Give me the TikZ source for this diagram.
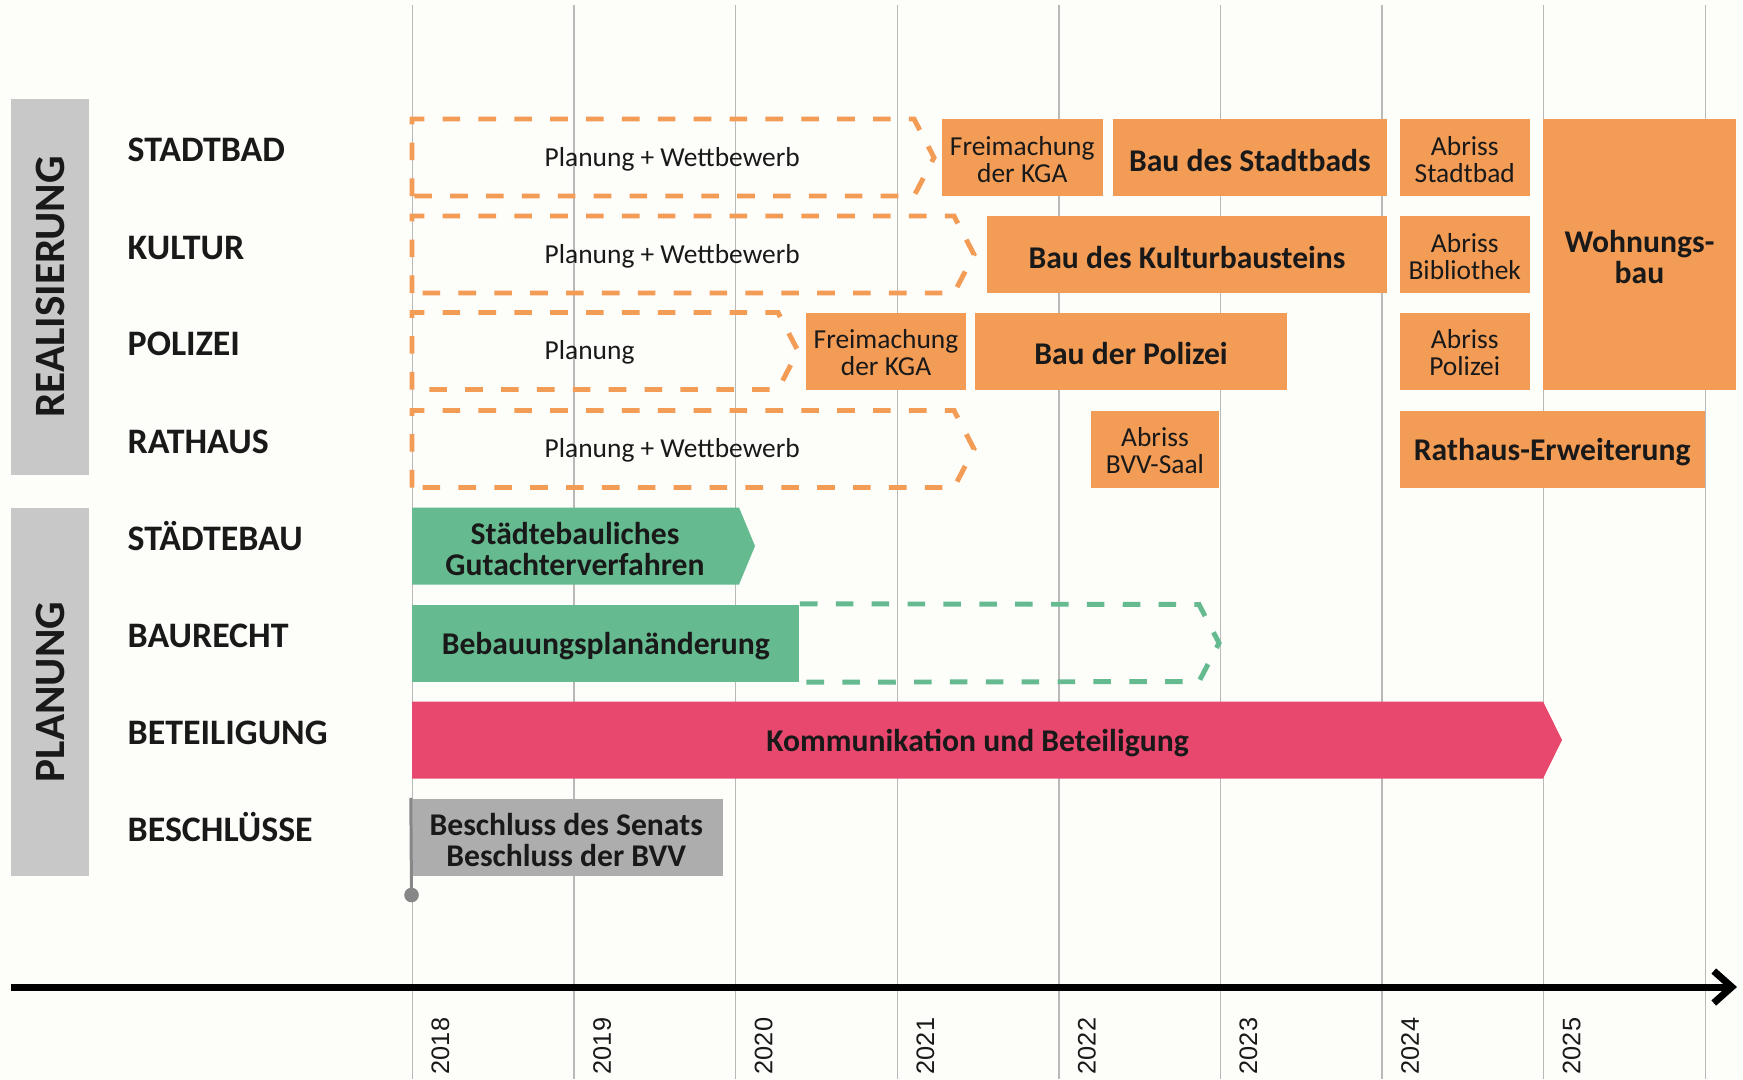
\documentclass[tikz,border=0pt]{standalone}
\usepackage{fontspec}
\setmainfont{Carlito}
\newfontfamily\yearfont{Liberation Sans}
\usetikzlibrary{fit,arrows.meta}

\definecolor{bgcream}{RGB}{253,253,250}
\definecolor{borange}{RGB}{243,156,86}
\definecolor{bgreen}{RGB}{101,186,143}
\definecolor{bpink}{RGB}{232,72,110}
\definecolor{bgray}{RGB}{173,173,173}
\definecolor{bandgray}{RGB}{200,200,200}
\definecolor{gridgray}{RGB}{185,185,185}
\definecolor{polegray}{RGB}{135,135,135}
\definecolor{textdark}{RGB}{25,25,25}

\tikzset{
  grid line/.style={draw=gridgray, line width=0.4pt},
  year label/.style={rotate=90, inner sep=0pt, font=\yearfont\fontsize{7.2}{7.2}\selectfont, text=textdark},
  band/.style={fill=bandgray, inner sep=0pt},
  band label/.style={rotate=90, inner sep=0pt, font=\fontsize{12.3}{12.3}\selectfont\bfseries, text=textdark},
  row label/.style={anchor=base west, inner sep=0pt, font=\fontsize{10.2}{10.2}\selectfont\bfseries, text=textdark},
  thin text/.style={font=\fontsize{7.8}{7.6}\selectfont, text=textdark, align=center, yshift=-0.5pt},
  bold text/.style={font=\fontsize{9}{8.9}\selectfont\bfseries, text=textdark, align=center, yshift=-0.8pt},
  obox/.style={fill=borange, inner sep=0pt},
  gbox/.style={fill=bgray, inner sep=0pt},
  odash/.style={draw=borange, line width=1.4pt, dash pattern=on 5pt off 5.2pt},
  gdash/.style={draw=bgreen, line width=1.4pt, dash pattern=on 5pt off 5.2pt},
  pole/.style={draw=polegray, line width=0.3mm},
  time axis/.style={draw=black, line width=0.7mm, -{Straight Barb[length=1.8mm, width=3.2mm]}}
}

\begin{document}
\begin{tikzpicture}[x=0.01cm, y=-0.01cm]
  \useasboundingbox[fill=bgcream] (0,0) rectangle (1743,1079);

  % year grid
  \foreach \yr [count=\i from 0] in {2018,...,2026} {
    \pgfmathsetmacro{\gx}{412.5+161.6*\i}
    \draw[grid line] (\gx,5) -- (\gx,1079);
  }
  \foreach \yr [count=\i from 0] in {2018,...,2025} {
    \pgfmathsetmacro{\gx}{440.5+161.6*\i}
    \node[year label] (y\yr) at (\gx,1046) {\yr};
  }

  % side bands
  \node[band, fit={(11,99) (89,475)}] (real) {};
  \node[band label] at (real.center) {REALISIERUNG};
  \node[band, fit={(11,508) (89,876)}] (plan) {};
  \node[band label] at (plan.center) {PLANUNG};

  % row labels
  \node[row label] (lstadtbad) at (127,162) {STADTBAD};
  \node[row label] (lkultur) at (127,259) {KULTUR};
  \node[row label] (lpolizei) at (127,355.5) {POLIZEI};
  \node[row label] (lrathaus) at (127,453) {RATHAUS};
  \node[row label] (lstaedtebau) at (127,550.5) {STÄDTEBAU};
  \node[row label] (lbaurecht) at (127,647.5) {BAURECHT};
  \node[row label] (lbeteiligung) at (127,744.5) {BETEILIGUNG};
  \node[row label] (lbeschluesse) at (127,841.5) {BESCHLÜSSE};

  % stadtbad
  \draw[odash] (412,196) -- (412,119) -- (914,119) -- (934,157.5) -- (914,196) -- cycle;
  \node[thin text, anchor=west, inner sep=0pt] (pstadtbad) at (544,157.5) {Planung + Wettbewerb};
  \node[obox, fit={(941.5,119) (1103,196)}, label={[thin text]center:Freimachung\\der KGA}] (fstadtbad) {};
  \node[obox, fit={(1112.7,119) (1387,196)}, label={[bold text]center:Bau des Stadtbads}] (bstadtbad) {};
  \node[obox, fit={(1399.5,119) (1530,196)}, label={[thin text]center:Abriss\\Stadtbad}] (astadtbad) {};
  \node[obox, fit={(1543,119) (1736,389.5)}, label={[bold text]center:Wohnungs-\\bau}] (wohnbau) {};

  % kultur
  \draw[odash] (412,293) -- (412,216) -- (954,216) -- (974,254.5) -- (954,293) -- cycle;
  \node[thin text, anchor=west, inner sep=0pt] (pkultur) at (544,254.5) {Planung + Wettbewerb};
  \node[obox, fit={(987,216) (1387,293)}, label={[bold text]center:Bau des Kulturbausteins}] (bkultur) {};
  \node[obox, fit={(1399.5,216) (1530,293)}, label={[thin text]center:Abriss\\Bibliothek}] (abibl) {};

  % polizei
  \draw[odash] (412,389.5) -- (412,312.5) -- (778,312.5) -- (798,351) -- (778,389.5) -- cycle;
  \node[thin text, anchor=west, inner sep=0pt] (ppolizei) at (544,351) {Planung};
  \node[obox, fit={(806,312.5) (966,389.5)}, label={[thin text]center:Freimachung\\der KGA}] (fpolizei) {};
  \node[obox, fit={(975,312.5) (1287,389.5)}, label={[bold text]center:Bau der Polizei}] (bpolizei) {};
  \node[obox, fit={(1399.5,312.5) (1530,389.5)}, label={[thin text]center:Abriss\\Polizei}] (apolizei) {};

  % rathaus
  \draw[odash] (412,487.5) -- (412,410.5) -- (954,410.5) -- (974,449) -- (954,487.5) -- cycle;
  \node[thin text, anchor=west, inner sep=0pt] (prathaus) at (544,449) {Planung + Wettbewerb};
  \node[obox, fit={(1090.5,410.5) (1219.4,487.5)}, label={[thin text]center:Abriss\\BVV-Saal}] (abvv) {};
  \node[obox, fit={(1399.5,410.5) (1705,487.5)}, label={[bold text]center:Rathaus-Erweiterung}] (erwrathaus) {};

  % staedtebau
  \fill[bgreen] (412,507.5) -- (739,507.5) -- (755,546) -- (739,584.5) -- (412,584.5) -- cycle;
  \node[bold text, inner sep=0pt] (gutachten) at (575,546) {Städtebauliches\\Gutachterverfahren};

  % baurecht
  \node[fill=bgreen, inner sep=0pt, fit={(412.4,604.5) (799.2,681.5)}, label={[bold text]center:Bebauungsplanänderung}] (bplan) {};
  \draw[gdash] (bplan.north east) -- (1199,604.5) -- (1219,643) -- (1199,681.5) -- (bplan.south east);

  % beteiligung
  \fill[bpink] (412,701.5) -- (1543,701.5) -- (1562,740) -- (1543,778.5) -- (412,778.5) -- cycle;
  \node[bold text, inner sep=0pt] (beteil) at (977.5,740) {Kommunikation und Beteiligung};

  % beschluesse
  \node[gbox, fit={(410,798.5) (722.5,875.5)}, label={[bold text]center:Beschluss des Senats\\Beschluss der BVV}] (beschl) {};
  \coordinate (poleend) at (411.5,895);
  \draw[pole] ([xshift=0.15mm]beschl.north west) -- (poleend);
  \fill[polegray] (poleend) circle (0.73mm);

  % time axis
  \coordinate (axstart) at (11,987);
  \coordinate (axend) at (1737,987);
  \draw[time axis] (axstart) -- (axend);
\end{tikzpicture}
\end{document}
